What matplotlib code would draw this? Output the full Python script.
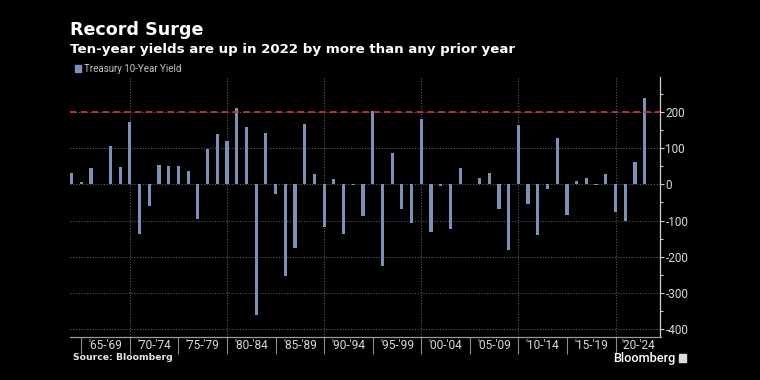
import matplotlib
matplotlib.use("Agg")
import matplotlib.pyplot as plt
import numpy as np
from matplotlib.ticker import FixedLocator, NullFormatter

# ---- data (basis-point change in 10-year Treasury yield, by year) ----
years = list(range(1963, 2023))
changes = [
    30, 6, 45, 2, 106, 48, 172,                 # 1963-1969
    -137, -61, 53, 50, 51, 37, -95, 98, 139, 119,  # 1970-1979
    210, 157, -359, 142, -28, -252, -175, 165, 28, -119,  # 1980-1989
    15, -137, -2, -88, 203, -226, 85, -67, -108, 180,  # 1990-1999
    -132, -6, -122, 44, 2, 17, 31, -67, -181, 163,  # 2000-2009
    -54, -140, -12, 128, -85, 10, 18, -3, 28, -76,  # 2010-2019
    -100, 61, 238,                                # 2020-2022
]
group_labels = ["'65-'69", "'70-'74", "'75-'79", "'80-'84", "'85-'89", "'90-'94",
                "'95-'99", "'00-'04", "'05-'09", "'10-'14", "'15-'19", "'20-'24"]
group_starts = list(range(1965, 2025, 5))
y_ticks = [200, 100, 0, -100, -200, -300, -400]
threshold = 200

title = "Record Surge"
subtitle = "Ten-year yields are up in 2022 by more than any prior year"
legend_label = "Treasury 10-Year Yield"
source = "Source: Bloomberg"

# ---- style ----
BG = "#000000"
BAR = "#7d90b5"
GRID = "#5a5a5a"
TXT = "#d9d9d9"
RED = "#d0302f"

fig = plt.figure(figsize=(7.6, 3.8), dpi=100, facecolor=BG)
W, H = 760, 380
x0, x1, ytop, ybot = 70, 660.5, 77, 337
ax = fig.add_axes([x0 / W, 1 - ybot / H, (x1 - x0) / W, (ybot - ytop) / H])
ax.set_facecolor(BG)

# bars dated at year end -> plotted at year + 1
xpos = np.array(years) + 1
ax.bar(xpos, changes, width=0.33, color=BAR, zorder=3)

ax.set_xlim(1963.84, 2024.63)
ax.set_ylim(-420.7, 295.6)

# grid
for v in y_ticks:
    ax.axhline(v, color=GRID, lw=0.8, ls=(0, (1, 1.5)), zorder=1)
for gx in range(1970, 2030, 10):
    ax.axvline(gx, color=GRID, lw=0.8, ls=(0, (1, 1.5)), zorder=1)

# threshold line
ax.axhline(threshold, color=RED, lw=1.3, ls=(0, (3.6, 2.4)), zorder=4)

# spines
for s in ["top", "left"]:
    ax.spines[s].set_visible(False)
ax.spines["right"].set_color("#cfcfcf")
ax.spines["right"].set_linewidth(0.9)
ax.spines["bottom"].set_color("#9a9a9a")
ax.spines["bottom"].set_linewidth(0.9)

# y axis on the right
ax.yaxis.tick_right()
ax.set_yticks(y_ticks)
ax.set_yticklabels([str(v) for v in y_ticks])
ax.yaxis.set_minor_locator(FixedLocator([250, 150, 50, -50, -150, -250, -350]))
ax.tick_params(axis="y", which="major", direction="out", length=3, width=0.8,
               color="#cfcfcf", labelcolor=TXT, labelsize=8.5, pad=0.5)
ax.tick_params(axis="y", which="minor", direction="out", length=2, width=0.8,
               color="#cfcfcf")
for lab in ax.get_yticklabels():
    lab.set_family("Roboto")

# x axis: separators as minor ticks, labels centred in segments
xr = ax.get_xlim()[1]
mids = [(s + min(s + 5, xr)) / 2 for s in group_starts]
ax.set_xticks(mids)
ax.set_xticklabels(group_labels)
ax.xaxis.set_minor_locator(FixedLocator(group_starts))
ax.xaxis.set_minor_formatter(NullFormatter())
ax.tick_params(axis="x", which="major", length=0, labelcolor=TXT, labelsize=8.6, pad=1.5)
ax.tick_params(axis="x", which="minor", direction="out", length=12, width=0.8,
               color="#8a8a8a")
for lab in ax.get_xticklabels():
    lab.set_family("Roboto")

# titles
fig.text(70 / W, 1 - 35 / H, title, color="white", fontsize=12.6, fontweight="bold",
         family="DejaVu Sans", ha="left", va="baseline")
fig.text(70 / W, 1 - 52.5 / H, subtitle, color="white", fontsize=9.6, fontweight="bold",
         family="DejaVu Sans", ha="left", va="baseline")

# legend
fig.patches.append(plt.Rectangle((75 / W, 1 - 71.5 / H), 6 / W, 6 / H,
                                 transform=fig.transFigure, color=BAR, figure=fig))
fig.text(83.5 / W, 1 - 68.5 / H, legend_label, color="#c4c4c4", fontsize=7,
         family="Roboto", ha="left", va="center")

# footer
fig.text(73 / W, 1 - 358 / H, source, color="#e6e6e6", fontsize=6.7, fontweight="bold",
         family="DejaVu Sans", ha="left", va="center")
fig.text(675 / W, 1 - 358.5 / H, "Bloomberg", color="white", fontsize=9.2,
         family="Roboto", fontweight="medium", ha="right", va="center")
fig.patches.append(plt.Rectangle((679 / W, 1 - 362 / H), 7 / W, 8 / H,
                                 transform=fig.transFigure, color="#dddddd", figure=fig))

fig.savefig("out.png", dpi=100, facecolor=BG)
